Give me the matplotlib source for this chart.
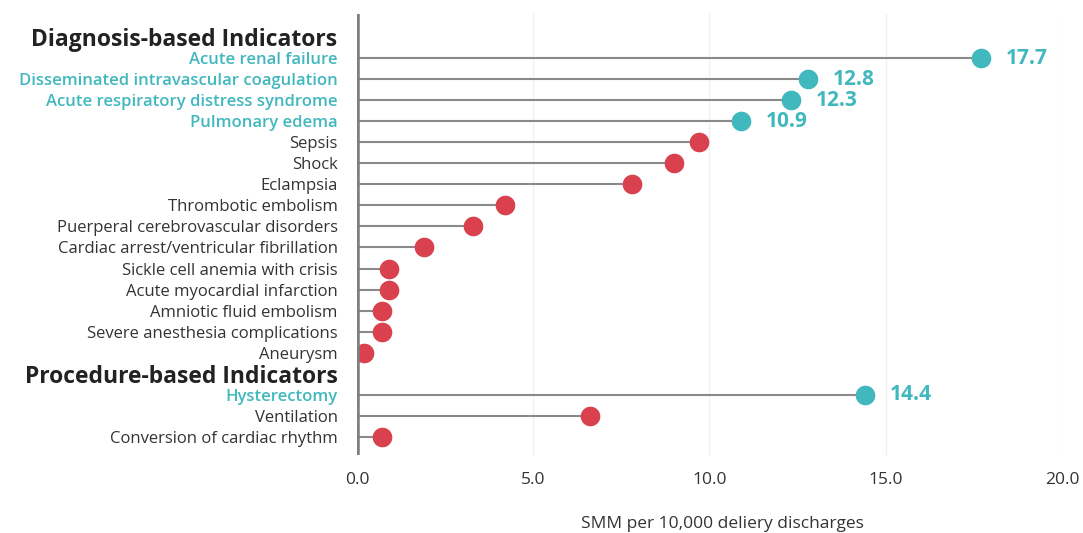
import numpy as np
import matplotlib.pyplot as plt

plt.rcParams['font.family'] = ['Open Sans', 'DejaVu Sans']

# indicator groups, rates per 10,000 delivery discharges
diag_names = ['Acute renal failure', 'Disseminated intravascular coagulation',
              'Acute respiratory distress syndrome', 'Pulmonary edema', 'Sepsis',
              'Shock', 'Eclampsia', 'Thrombotic embolism',
              'Puerperal cerebrovascular disorders',
              'Cardiac arrest/ventricular fibrillation',
              'Sickle cell anemia with crisis', 'Acute myocardial infarction',
              'Amniotic fluid embolism', 'Severe anesthesia complications',
              'Aneurysm']
diag_vals = [17.7, 12.8, 12.3, 10.9, 9.7, 9.0, 7.8, 4.2, 3.3, 1.9, 0.9, 0.9,
             0.7, 0.7, 0.2]
diag_top = [True, True, True, True] + [False] * 11

proc_names = ['Hysterectomy', 'Ventilation', 'Conversion of cardiac rhythm']
proc_vals = [14.4, 6.6, 0.7]
proc_top = [True, False, False]

headers = ['Diagnosis-based Indicators', 'Procedure-based Indicators']
xticks = [0, 5, 10, 15, 20]

teal = '#41b8be'
red = '#d9414e'
stem = '#8a8a8a'

# lay out rows: header, its items, next header, its items
labels, vals, top, is_head = [], [], [], []
for h, names, v, t in [(headers[0], diag_names, diag_vals, diag_top),
                       (headers[1], proc_names, proc_vals, proc_top)]:
    labels.append(h); vals.append(np.nan); top.append(False); is_head.append(True)
    labels += names; vals += v; top += t; is_head += [False] * len(names)

y = np.arange(len(labels))
vals = np.array(vals)

fig = plt.figure(figsize=(10.83, 5.33), dpi=100)
ax = fig.add_axes([0.3296, 0.1463, 0.651, 0.8274])

for i in range(len(labels)):
    if is_head[i]:
        continue
    ax.plot([0, vals[i]], [y[i], y[i]], color=stem, lw=1.5, zorder=2)
    c = teal if top[i] else red
    ax.scatter(vals[i], y[i], s=200, color=c, zorder=3, linewidths=0)
    if top[i]:
        ax.annotate(f'{vals[i]:.1f}', (vals[i], y[i]), xytext=(18, 0),
                    textcoords='offset points', va='center', ha='left',
                    color=teal, fontsize=15, fontweight='bold')

ax.axvline(0, color='#7f7f7f', lw=4, zorder=4, solid_capstyle='round')
for g in xticks[1:]:
    ax.axvline(g, color='#f0f0f0', lw=1, zorder=0)

ax.set_xlim(0, 20)
ax.set_ylim(19.86, -1.09)
ax.set_xticks(xticks)
ax.set_xticklabels([f'{t:.1f}' for t in xticks], fontsize=12.5, color='#333333')
ax.set_yticks(y)
ax.set_yticklabels(labels)
for lab, h, t in zip(ax.get_yticklabels(), is_head, top):
    if h:
        lab.set_fontsize(16.5)
        lab.set_fontweight('bold')
        lab.set_color('#222222')
    elif t:
        lab.set_fontsize(12)
        lab.set_fontweight('semibold')
        lab.set_color(teal)
    else:
        lab.set_fontsize(12)
        lab.set_color('#333333')
ax.tick_params(axis='both', length=0)
ax.tick_params(axis='y', pad=14)
ax.tick_params(axis='x', pad=12)

ax.set_xlabel('SMM per 10,000 deliery discharges', fontsize=12.5, color='#333333')
ax.xaxis.set_label_coords(0.519, -0.138)

for s in ax.spines.values():
    s.set_visible(False)

fig.savefig('out.png', dpi=100)
